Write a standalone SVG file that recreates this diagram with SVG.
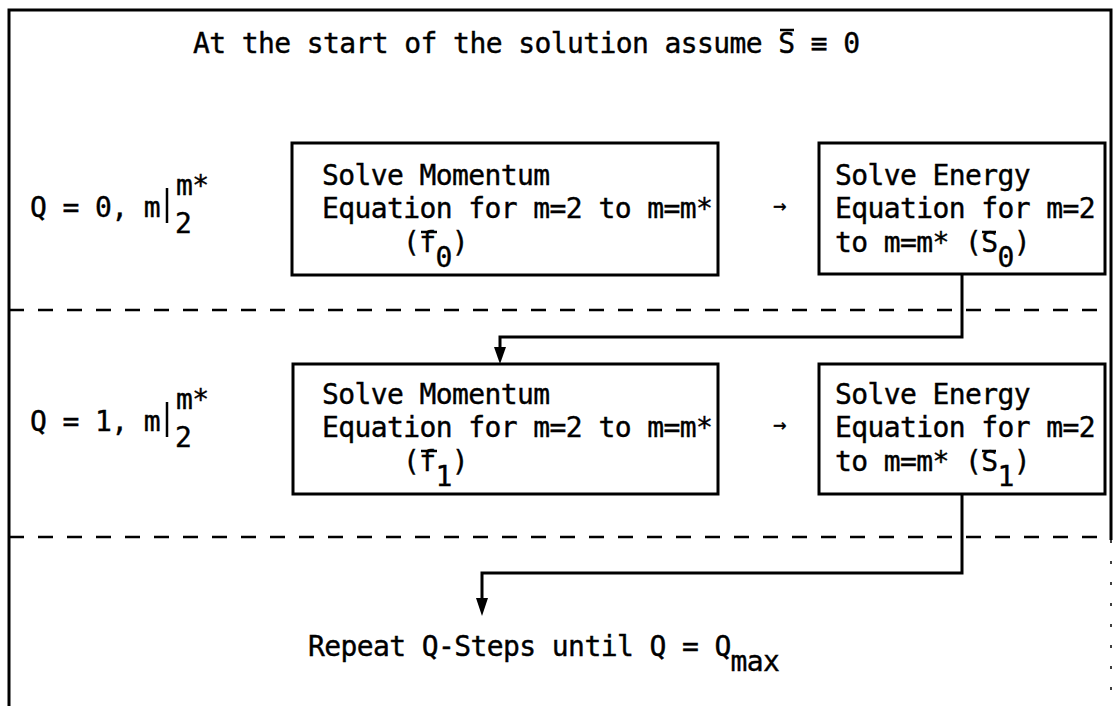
<svg xmlns="http://www.w3.org/2000/svg" width="1113" height="706" viewBox="0 0 1113 706">
<style>
  text { font-family: "DejaVu Sans Mono", "Liberation Mono", monospace; font-size: 28px; letter-spacing: -0.6px; fill: #000; stroke: #000; stroke-width: 0.4px; }
  .arr { font-size: 22px; letter-spacing: 0; }
  .box { fill: #fff; stroke: #000; stroke-width: 3; }
  .frame { fill: none; stroke: #000; stroke-width: 3; }
  .dash { stroke: #000; stroke-width: 2.5; stroke-dasharray: 15 14; }
  .conn { fill: none; stroke: #000; stroke-width: 3; }
  .bar { stroke: #000; stroke-width: 2.5; }
  .head { fill: #000; }
</style>
<rect x="0" y="0" width="1113" height="706" fill="#fff"/>

<g id="frame">
  <path class="frame" d="M9,706 V10 H1111 V540"/>
  <path d="M1111,540 V706" stroke="#000" stroke-width="1.5" stroke-dasharray="3 18" fill="none"/>
  <line class="dash" x1="9" y1="310" x2="1111" y2="310"/>
  <line class="dash" x1="9" y1="537" x2="1111" y2="537"/>
</g>

<g id="title">
  <text x="193" y="53">At the start of the solution assume S ≡ 0</text>
  <line class="bar" x1="780" y1="30" x2="794" y2="30"/>
</g>

<g id="label-q0">
  <text x="30" y="217">Q = 0, m</text>
  <line class="bar" x1="167" y1="188" x2="167" y2="223"/>
  <text x="176" y="195">m*</text>
  <text x="175" y="233">2</text>
</g>

<g id="label-q1">
  <text x="30" y="431">Q = 1, m</text>
  <line class="bar" x1="167" y1="402" x2="167" y2="437"/>
  <text x="176" y="409">m*</text>
  <text x="175" y="447">2</text>
</g>

<g id="connectors">
  <path class="conn" d="M962,275 V337 H500 V350"/>
  <polygon class="head" points="494,347 506,347 500,364"/>
  <path class="conn" d="M962,494 V573 H482 V600"/>
  <polygon class="head" points="476,598 488,598 482,616"/>
  <text class="arr" x="773" y="213">→</text>
  <text class="arr" x="773" y="432">→</text>
</g>

<g id="momentum-0">
  <rect class="box" x="292" y="143" width="426" height="132"/>
  <text x="322" y="185">Solve Momentum</text>
  <text x="322" y="218">Equation for m=2 to m=m*</text>
  <text x="403" y="252">(f</text>
  <text x="435.5" y="267">0</text>
  <text x="451.75" y="252">)</text>
  <line class="bar" x1="421" y1="232" x2="437" y2="232"/>
</g>

<g id="energy-0">
  <rect class="box" x="819" y="143" width="286" height="131"/>
  <text x="835" y="185">Solve Energy</text>
  <text x="835" y="218">Equation for m=2</text>
  <text x="835" y="252">to m=m* (S</text>
  <text x="997.5" y="267">0</text>
  <text x="1013.75" y="252">)</text>
  <line class="bar" x1="982" y1="232" x2="996" y2="232"/>
</g>

<g id="momentum-1">
  <rect class="box" x="293" y="364" width="425" height="130"/>
  <text x="322" y="404">Solve Momentum</text>
  <text x="322" y="437">Equation for m=2 to m=m*</text>
  <text x="403" y="471">(f</text>
  <text x="435.5" y="486">1</text>
  <text x="451.75" y="471">)</text>
  <line class="bar" x1="421" y1="451" x2="437" y2="451"/>
</g>

<g id="energy-1">
  <rect class="box" x="819" y="364" width="286" height="130"/>
  <text x="835" y="404">Solve Energy</text>
  <text x="835" y="437">Equation for m=2</text>
  <text x="835" y="471">to m=m* (S</text>
  <text x="997.5" y="486">1</text>
  <text x="1013.75" y="471">)</text>
  <line class="bar" x1="982" y1="451" x2="996" y2="451"/>
</g>

<g id="repeat">
  <text x="308" y="656">Repeat Q-Steps until Q = Q</text>
  <text x="730.5" y="671">max</text>
</g>
</svg>
